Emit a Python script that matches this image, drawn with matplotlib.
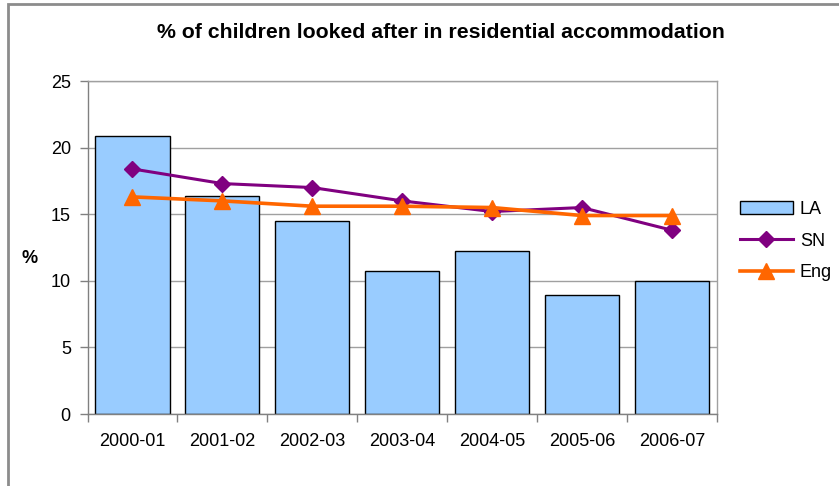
import numpy as np
import matplotlib
matplotlib.use("Agg")
import matplotlib.pyplot as plt
from matplotlib.patches import Rectangle

plt.rcParams['font.family'] = ['Liberation Sans', 'DejaVu Sans']

# data
years = ['2000-01', '2001-02', '2002-03', '2003-04', '2004-05', '2005-06', '2006-07']
la = [20.9, 16.4, 14.5, 10.7, 12.2, 8.9, 10.0]
sn = [18.4, 17.3, 17.0, 16.0, 15.2, 15.5, 13.8]
eng = [16.3, 16.0, 15.6, 15.6, 15.5, 14.9, 14.9]

W, H = 839, 486
fs = 13
fig = plt.figure(figsize=(W / 100, H / 100), dpi=100)
ax = fig.add_axes([87.5 / W, 1 - 414 / H, (716.7 - 87.5) / W, (414 - 81) / H])

x = np.arange(len(years))
bars = ax.bar(x, la, width=0.826, color='#99CCFF', edgecolor='black', linewidth=1.0, label='LA', zorder=2)
l_sn, = ax.plot(x, sn, color='#800080', linewidth=2.2, marker='D', markersize=8, label='SN', zorder=3)
l_eng, = ax.plot(x, eng, color='#FF6600', linewidth=2.6, marker='^', markersize=11, label='Eng', zorder=4)

ax.set_xlim(-0.5, len(years) - 0.5)
ax.set_ylim(0, 25)
ax.set_yticks([0, 5, 10, 15, 20, 25])
ax.yaxis.grid(True, color='#A0A0A0', linewidth=1.0, zorder=0)
ax.set_axisbelow(True)

# x ticks between the categories, labels in the middle
ax.set_xticks(np.arange(-0.5, len(years), 1.0))
ax.set_xticklabels([])
ax.set_xticks(x, minor=True)
ax.set_xticklabels(years, minor=True, fontsize=fs)
ax.tick_params(axis='x', which='minor', length=0, pad=14)
ax.tick_params(axis='x', which='major', length=6, color='#808080', width=1)
ax.tick_params(axis='y', length=6, color='#808080', width=1, labelsize=fs, pad=6)

for s in ax.spines.values():
    s.set_color('#A0A0A0')
    s.set_linewidth(1.0)
ax.spines['left'].set_color('#808080')
ax.spines['bottom'].set_color('#808080')

fig.text(441 / W, 1 - 33 / H, '% of children looked after in residential accommodation',
         fontsize=15.3, fontweight='bold', ha='center', va='center')
fig.text(30 / W, 1 - 258 / H, '%', fontsize=fs, fontweight='bold', ha='center', va='center')

fig.legend(handles=[bars, l_sn, l_eng], labels=['LA', 'SN', 'Eng'],
           loc='center left', bbox_to_anchor=(724 / W, 1 - 241 / H), frameon=False,
           fontsize=fs, handlelength=2.9, labelspacing=0.82, handletextpad=0.4)

# outer chart frame (only left and top visible)
fig.patches.append(Rectangle((8 / W, -0.2), 1.2, 1.2 - 4 / H, transform=fig.transFigure,
                             fill=False, edgecolor='#8C8C8C', linewidth=2.0))

fig.savefig('out.png', dpi=100)
